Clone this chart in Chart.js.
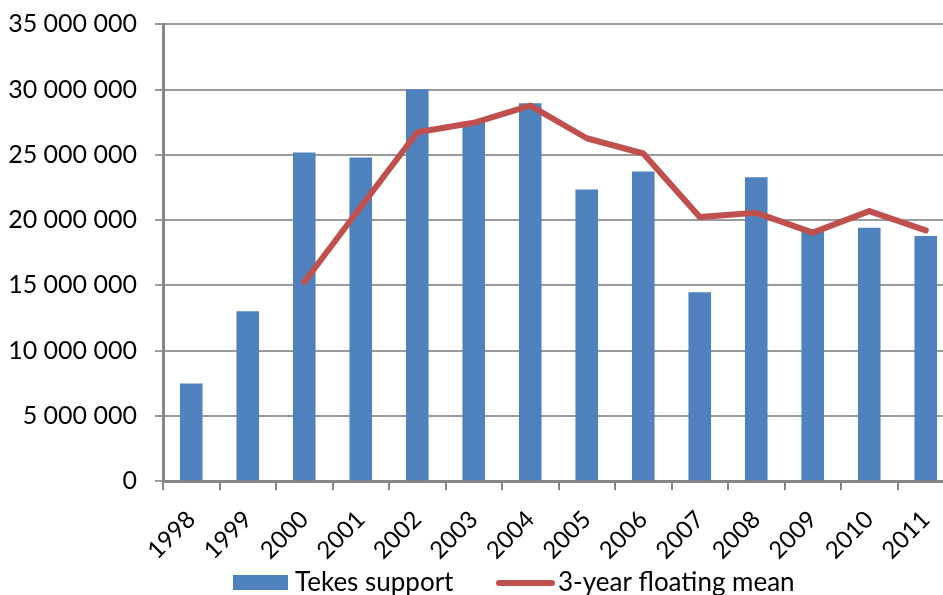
<!DOCTYPE html>
<html>
<head>
<meta charset="utf-8">
<script src="https://cdn.jsdelivr.net/npm/chart.js@4/dist/chart.umd.min.js"></script>
<style>
  html, body { margin: 0; padding: 0; background: #fff; overflow: hidden; }
  #wrap { width: 962px; height: 595px; }
</style>
</head>
<body>
<div id="wrap"><canvas id="tekesChart" width="962" height="595"></canvas></div>
<script>
// Years on the x axis
const years = ['1998', '1999', '2000', '2001', '2002', '2003', '2004',
               '2005', '2006', '2007', '2008', '2009', '2010', '2011'];

// Tekes support per year (EUR)
const tekesSupport = [7490000, 13020000, 25180000, 24790000, 30020000, 27550000, 28950000,
                      22350000, 23720000, 14470000, 23290000, 19300000, 19420000, 18780000];

// 3-year floating mean, starts at 2000
const floatingMean = [null, null, 15260000, 21000000, 26730000, 27450000, 28770000,
                      26270000, 25100000, 20230000, 20560000, 19040000, 20690000, 19210000];

// y axis ticks
const yMax = 35000000;
const yStep = 5000000;

const barBlue = '#4F81BD';
const lineRed = '#C0504D';
const gridGrey = '#9a9a9a';
const axisGrey = '#868686';
const fontFamily = 'Lato, "Open Sans", sans-serif';
const fontSize = 25;
const legendFontSize = 26;

// format numbers with space as thousands separator, like "35 000 000"
function spaced(v) {
    return String(v).replace(/\B(?=(\d{3})+(?!\d))/g, ' ');
}

// simple legend under the chart, spaced like the original
const bottomLegend = {
    id: 'bottomLegend',
    afterDraw(chart) {
        const ctx = chart.ctx;
        const sets = chart.data.datasets;
        const y = 583;
        ctx.save();
        ctx.font = legendFontSize + 'px ' + fontFamily;
        ctx.textBaseline = 'middle';
        ctx.textAlign = 'left';

        // bar swatch
        ctx.fillStyle = sets[0].backgroundColor;
        ctx.fillRect(233, 575, 55, 15);
        ctx.fillStyle = '#000';
        ctx.fillText(sets[0].label, 295, y);

        // line swatch
        ctx.strokeStyle = sets[1].borderColor;
        ctx.lineWidth = 6;
        ctx.lineCap = 'round';
        ctx.beginPath();
        ctx.moveTo(499, y);
        ctx.lineTo(552, y);
        ctx.stroke();
        ctx.fillText(sets[1].label, 558, y);
        ctx.restore();
    }
};

const config = {
    type: 'bar',
    data: {
        labels: years,
        datasets: [{
            type: 'bar',
            label: 'Tekes support',
            data: tekesSupport,
            backgroundColor: barBlue,
            borderWidth: 0,
            categoryPercentage: 1.0,
            barPercentage: 0.4,
            order: 2
        }, {
            type: 'line',
            label: '3-year floating mean',
            data: floatingMean,
            borderColor: lineRed,
            backgroundColor: lineRed,
            borderWidth: 6,
            tension: 0,
            pointRadius: 0,
            borderCapStyle: 'round',
            borderJoinStyle: 'round',
            order: 1
        }]
    },
    options: {
        responsive: false,
        animation: false,
        layout: {
            padding: { top: 3, right: 8, bottom: 15, left: 0 }
        },
        plugins: {
            tooltip: { enabled: false },
            legend: { display: false }
        },
        scales: {
            x: {
                offset: true,
                grid: {
                    offset: true,
                    drawOnChartArea: false,
                    drawTicks: true,
                    tickLength: 9,
                    color: axisGrey,
                    lineWidth: 2
                },
                border: { color: axisGrey, width: 3 },
                ticks: {
                    font: { family: fontFamily, size: 24 },
                    color: '#000',
                    minRotation: 45,
                    maxRotation: 45,
                    padding: 15
                }
            },
            y: {
                min: 0,
                max: yMax,
                afterFit(scale) { scale.width = 163; },
                grid: {
                    color: gridGrey,
                    lineWidth: 2,
                    drawTicks: true,
                    tickLength: 8
                },
                border: { color: axisGrey, width: 3 },
                ticks: {
                    stepSize: yStep,
                    // small lineHeight keeps the top tick label from pushing the plot down
                    font: { family: fontFamily, size: fontSize, lineHeight: 0.5 },
                    color: '#000',
                    padding: 18,
                    callback: v => spaced(v)
                }
            }
        }
    },
    plugins: [bottomLegend]
};

window.onload = function() {
    const ctx = document.getElementById('tekesChart').getContext('2d');
    new Chart(ctx, config);
};
</script>
</body>
</html>
